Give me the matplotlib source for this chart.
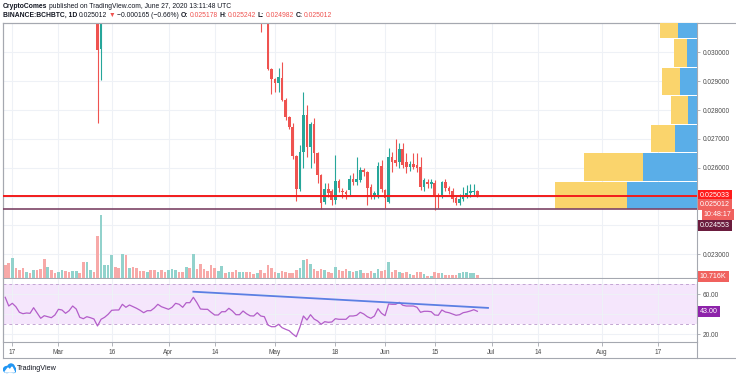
import numpy as np
import pandas as pd
import matplotlib
matplotlib.use("Agg")
import matplotlib.pyplot as plt
import matplotlib.dates as mdates
from matplotlib.patches import Ellipse, Polygon
from matplotlib.lines import Line2D

plt.rcParams['font.family'] = ['Liberation Sans', 'DejaVu Sans']

W, H = 736, 379

# daily bars from Feb 15 2020 to Jun 27 2020 : volume (K) and RSI(14)
day0 = '2020-02-15'
volume = [13.3, 15, 20.3, 10.3, 8.3, 10, 6.3, 5, 8.3, 8.3,
          9.3, 18.7, 11, 8.3, 5, 6.3, 8.3, 7, 6.3, 7,
          7, 5, 15.7, 16.3, 7.7, 6, 42, 63, 13.3, 13.3,
          23.3, 11.3, 10, 24.3, 22.7, 10.3, 11.3, 10.3, 7.3, 7.3,
          6.3, 8.3, 8.3, 6.3, 7.7, 6.3, 8.3, 9.3, 7.7, 6.3,
          6, 11.3, 10, 24.3, 9.3, 14.3, 9.3, 7, 13.3, 10,
          6.7, 12.3, 5.3, 6.3, 6.3, 7.7, 6.3, 6.3,
          6, 6, 4.3, 5.3, 7.7, 5.3, 12.7, 9.7, 5.7, 4.7,
          6.7, 6, 4.7, 5.3, 7.7, 10.3, 17.7, 18.7, 13.7, 8.7,
          7, 9.3, 7.7, 5.7, 5.3, 10.7, 7.7, 7, 8.7, 6.7,
          5.7, 7, 7.7, 4.7, 4.7, 7, 4.7, 8.7, 6.7, 7.7,
          15.7, 6, 7.7, 6, 5.3, 5.7, 3.7, 3.3, 6.3, 6.3,
          4, 2.3, 2, 5.7, 5, 4.7, 2.7, 3.3, 3.3, 2.7,
          5, 6, 6, 4.7, 5.3, 2.7]
volume = [v * 4 for v in volume[:-1]] + [10.716]
vol_side = ("RRGRRRGRGR" "RRGRRGGRRG" "GRRGGRRGGG" "GRRGRGRRRR" "GRRGRRGGGR"
            "RGRGRRRRRR" "GGRGRRGG"
            "RRRGRRRRRG" "RRRRRGGRGR" "RRGRRGRRRG" "RGGRRRGGRR" "GRRGRRGRRR"
            "GRGRRGRRRR" "GGGGGR")
rsi = [57, 48.3, 51, 47.6, 42, 40.6, 41.3, 41, 46.6, 41.3,
       36, 38.6, 37.6, 36.6, 39.3, 45, 44.3, 41, 43.6, 48.3,
       45.3, 37, 35.6, 37.6, 36.6, 35.3, 28.3, 35, 37, 40,
       44, 44.3, 44.3, 50, 47, 49.3, 47.6, 46, 44, 41.6,
       43.6, 43.6, 46.3, 50, 47.6, 46.3, 45, 47, 51, 50,
       47, 51.6, 51.6, 57, 51.6, 45.3, 45, 45, 42, 39.3,
       39.3, 42.6, 42.6, 46, 43.3, 39.6, 39.6, 43.3,
       40.5, 38.5, 38.3, 41.6, 38.3, 37.6, 29.3, 27.6, 27.6, 30,
       26.6, 25, 23.6, 20.3, 17.6, 27, 38.3, 34.3, 39.6, 35.3,
       33.3, 30, 32.6, 32, 32.3, 35.6, 35, 35, 35, 38.3,
       38.3, 39, 42, 40.3, 37.6, 36, 38.3, 45.6, 41, 38.6,
       50.3, 50, 50, 52, 49, 48.3, 48.3, 48.3, 47, 42,
       43, 43, 42.6, 39.3, 39, 44.3, 42.3, 41.6, 40.3, 39,
       39.6, 41.6, 42.3, 43.3, 44.6, 43.0]

# candles that fall inside the visible price range
candle_days = ['2020-03-12', '2020-03-13'] + \
    [d.strftime('%Y-%m-%d') for d in pd.date_range('2020-04-27', '2020-06-27')]
opens = [0.0335, 0.0301,
         0.0322, 0.0318, 0.0315, 0.02941, 0.02906, 0.02893, 0.02910, 0.02835, 0.02775, 0.02740,
         0.02641, 0.02525, 0.02656, 0.02783, 0.02671, 0.02752, 0.02650, 0.02575, 0.02480, 0.02525,
         0.02519, 0.02488, 0.02554, 0.02520, 0.02516, 0.02523, 0.02560, 0.02550, 0.02557, 0.02592,
         0.02585, 0.02534, 0.02502, 0.02505, 0.02606, 0.02522, 0.02482, 0.02638, 0.02628, 0.02621,
         0.02664, 0.02621, 0.02604, 0.02613, 0.02610, 0.02601, 0.02532, 0.02552, 0.02543, 0.02548,
         0.02505, 0.02502, 0.02549, 0.02531, 0.02519, 0.02494, 0.02477, 0.02491, 0.02500, 0.02512,
         0.02516, 0.025178]
highs = [0.0340, 0.0335,
         0.0326, 0.0321, 0.0316, 0.02945, 0.02912, 0.02945, 0.02965, 0.02840, 0.02780, 0.02754,
         0.02645, 0.02679, 0.02864, 0.02817, 0.02760, 0.02771, 0.02655, 0.02580, 0.02546, 0.02546,
         0.02525, 0.02644, 0.02562, 0.02530, 0.02522, 0.02575, 0.02582, 0.02638, 0.02604, 0.02600,
         0.02590, 0.02545, 0.02520, 0.02621, 0.02627, 0.02528, 0.02668, 0.02655, 0.02698, 0.02685,
         0.02685, 0.02652, 0.02625, 0.02650, 0.02650, 0.02638, 0.02565, 0.02560, 0.02562, 0.02557,
         0.02512, 0.02555, 0.02560, 0.02535, 0.02530, 0.02502, 0.02510, 0.02534, 0.02540, 0.02545,
         0.02542, 0.025242]
lows = [0.02754, 0.02904,
        0.03071, 0.0312, 0.02938, 0.02856, 0.02864, 0.02864, 0.02830, 0.02765, 0.02735, 0.02630,
        0.02485, 0.02520, 0.02598, 0.02636, 0.02598, 0.02615, 0.02546, 0.02456, 0.02476, 0.02497,
        0.02471, 0.02474, 0.02515, 0.02495, 0.02490, 0.02505, 0.02540, 0.02540, 0.02550, 0.02570,
        0.02470, 0.02490, 0.02490, 0.02495, 0.02515, 0.02459, 0.02478, 0.02586, 0.02605, 0.02600,
        0.02600, 0.02581, 0.02590, 0.02595, 0.02585, 0.02523, 0.02520, 0.02530, 0.02530, 0.02455,
        0.02460, 0.02495, 0.02520, 0.02510, 0.02480, 0.02470, 0.02470, 0.02485, 0.02495, 0.02500,
        0.02505, 0.024982]
closes = [0.03008, 0.0325,
          0.0318, 0.0315, 0.02941, 0.02906, 0.02893, 0.02913, 0.02835, 0.02775, 0.02740, 0.02641,
          0.02525, 0.02656, 0.02783, 0.02671, 0.02752, 0.02650, 0.02575, 0.02479, 0.02525, 0.02511,
          0.02488, 0.02554, 0.02529, 0.02517, 0.02510, 0.02560, 0.02552, 0.02560, 0.02592, 0.02585,
          0.02529, 0.02505, 0.02512, 0.02606, 0.02525, 0.02494, 0.02638, 0.02621, 0.02618, 0.02664,
          0.02609, 0.02604, 0.02613, 0.02604, 0.02600, 0.02532, 0.02557, 0.02543, 0.02550, 0.02505,
          0.02500, 0.02549, 0.02531, 0.02519, 0.02491, 0.02479, 0.02491, 0.02502, 0.02512, 0.02521,
          0.025177, 0.025012]

# visible range volume profile (bottom row first)
vp_edges = [0.02455, 0.02554, 0.02653, 0.02751, 0.02850, 0.02949, 0.03048, 0.03146]
vp_up = [70, 54.3, 21.7, 9.3, 16.7, 10, 18.7]
vp_down = [72, 59, 24.3, 16.7, 18.3, 12.7, 18]

level_red = 0.025033
level_purple = 0.024553
trend_days = ['2020-04-08', '2020-06-30']
trend_rsi = [62.6, 46.4]

tick_days = ['2020-02-17', '2020-03-01', '2020-03-16', '2020-04-01', '2020-04-14', '2020-05-01',
             '2020-05-18', '2020-06-01', '2020-06-15', '2020-07-01', '2020-07-14', '2020-08-01',
             '2020-08-17']
tick_names = ['17', 'Mar', '16', 'Apr', '14', 'May', '18', 'Jun', '15', 'Jul', '14', 'Aug', '17']
price_ticks = [0.023, 0.024, 0.025, 0.026, 0.027, 0.028, 0.029, 0.030]

UP, DN = '#26a69a', '#ef5350'
VUP, VDN = '#92d2cc', '#f7a9a8'
GRID = '#eef1f6'
FRAME = '#a5a8b0'
TXT = '#4a4a4a'
FS = 4.7

fig = plt.figure(figsize=(W / 100, H / 100), dpi=100)
fig.patch.set_facecolor('white')


def box(l, t, r, b):
    return [l / W, 1 - b / H, (r - l) / W, (b - t) / H]


ax = fig.add_axes(box(3, 23, 697, 278))
ax_rsi = fig.add_axes(box(3, 279, 697, 342), sharex=ax)

base = mdates.date2num(pd.Timestamp('2020-02-17'))
ax.set_xlim(base - 2.62, base + 192.87)
ax.set_ylim(0.022179, 0.031015)

# volume overlay and volume profile live on twins of the price pane
axv = ax.twinx()
axv.set_zorder(ax.get_zorder() + 1)
axv.patch.set_visible(False)
axp = ax.twiny()
axp.set_zorder(axv.get_zorder() + 1)
axp.patch.set_visible(False)

ticks_x = mdates.date2num(pd.to_datetime(tick_days))
for a in (ax, ax_rsi):
    a.set_xticks(ticks_x)
    a.grid(True, color=GRID, lw=0.8)
    a.set_axisbelow(True)
    for s in a.spines.values():
        s.set_color(FRAME)
        s.set_linewidth(0.8)
    a.yaxis.tick_right()
    a.tick_params(axis='y', length=2, width=0.6, color=FRAME, labelsize=FS, labelcolor=TXT, pad=2)
ax.tick_params(axis='x', length=0, labelbottom=False, labeltop=False)
ax_rsi.set_xticklabels(tick_names)
ax_rsi.tick_params(axis='x', length=3, width=0.6, color=FRAME, labelsize=FS, labelcolor=TXT, pad=2)

ax.set_yticks(price_ticks)
ax.set_yticklabels(['' if p in (0.024, 0.025) else '%.6f' % p for p in price_ticks])

# candles
cx = mdates.date2num(pd.to_datetime(candle_days))
o, h, l, c = map(np.array, (opens, highs, lows, closes))
ccol = np.where(c >= o, UP, DN)
ax.vlines(cx, l, h, colors=ccol, lw=0.8, zorder=2)
ax.bar(cx, np.maximum(np.abs(c - o), 0.00002), bottom=np.minimum(o, c), width=0.74,
       color=ccol, linewidth=0, zorder=3)

# volume
vx = mdates.date2num(pd.date_range(day0, periods=len(volume)))
axv.bar(vx, volume, width=0.75, color=[VUP if s == 'G' else VDN for s in vol_side], linewidth=0)
axv.set_ylim(0, 1020)
axv.set_yticks([])
for s in axv.spines.values():
    s.set_visible(False)

# volume profile + horizontal levels
axp.set_xlim(694, 0)
centers = [(a + b) / 2 for a, b in zip(vp_edges[:-1], vp_edges[1:])]
hts = [(b - a) * 0.965 for a, b in zip(vp_edges[:-1], vp_edges[1:])]
axp.barh(centers, vp_up, height=hts, left=0, color='#5aaee8', linewidth=0)
axp.barh(centers, vp_down, height=hts, left=vp_up, color='#fad46c', linewidth=0)
axp.axhline(level_red, color='#f21b1b', lw=1.4)
axp.axhline(level_purple, color='#7d4466', lw=1.2)
axp.set_xticks([])
for s in axp.spines.values():
    s.set_visible(False)
axp.set_ylim(ax.get_ylim())

# rsi pane
ax_rsi.set_ylim(12.3, 75.3)
ax_rsi.axhspan(30, 70, color='#f5e6fc', zorder=0.5, lw=0)
for lv in (30, 70):
    ax_rsi.axhline(lv, color='#c3a6d3', lw=0.7, ls=(0, (3, 3)), zorder=1)
ax_rsi.plot(vx, rsi, color='#b35ec9', lw=0.9, zorder=3)
ax_rsi.plot(mdates.date2num(pd.to_datetime(trend_days)), trend_rsi, color='#5b7fe3', lw=1.3, zorder=4)
ax_rsi.set_yticks([20, 40, 60])
ax_rsi.set_yticklabels(['20.00', '', '60.00'])
ax_rsi.spines['top'].set_visible(False)


def tag(a, txt, val, bg, dy=0, dx=3):
    a.annotate(txt, xy=(1, val), xycoords=('axes fraction', 'data'), xytext=(dx, dy),
               textcoords='offset pixels', va='center', ha='left', color='white', fontsize=5.1,
               bbox=dict(boxstyle='square,pad=0.3', fc=bg, ec='none'), zorder=10,
               annotation_clip=False)


tag(axp, '0.025033', level_red, '#ff1b1b')
tag(axp, '0.025012', closes[-1], '#f0615e', dy=-8)
tag(axp, '10:48:17', closes[-1], '#f0615e', dy=-18, dx=7)
tag(axp, '0.024553', level_purple, '#6b1c3e', dy=-16)
tag(axv, '10.716K', volume[-1], '#f0615e', dy=-1)
tag(ax_rsi, '43.00', rsi[-1], '#8e24aa')

# outer frame lines
fig.add_artist(Line2D([3 / W, 736 / W], [1 - 23 / H] * 2, color=FRAME, lw=0.8))
fig.add_artist(Line2D([3 / W, 736 / W], [1 - 358 / H] * 2, color=FRAME, lw=0.8))
fig.add_artist(Line2D([3 / W, 3 / W], [1 - 23 / H, 1 - 358 / H], color=FRAME, lw=0.8))
fig.add_artist(Line2D([697 / W, 697 / W], [1 - 342 / H, 1 - 358 / H], color=FRAME, lw=0.8))

# header
renderer = fig.canvas.get_renderer()


def line_of(pieces, x0, y0, size):
    x = x0
    for txt, color, weight in pieces:
        t = fig.text(x / W, 1 - y0 / H, txt, color=color, fontsize=size, fontweight=weight,
                     va='center', ha='left')
        x += t.get_window_extent(renderer=renderer).width + 1.6


DARK = '#131722'
line_of([('CryptoComes', DARK, 'bold'),
         ('published on TradingView.com, June 27, 2020 13:11:48 UTC', DARK, 'normal')], 3, 6, 4.9)
line_of([('BINANCE:BCHBTC, 1D', DARK, 'bold'), ('0.025012', DARK, 'normal'), ('▼', DN, 'normal'),
         ('−0.000165 (−0.66%)', DARK, 'normal'), ('O:', DARK, 'bold'), ('0.025178', DN, 'normal'),
         ('H:', DARK, 'bold'), ('0.025242', DN, 'normal'), ('L:', DARK, 'bold'),
         ('0.024982', DN, 'normal'), ('C:', DARK, 'bold'), ('0.025012', DN, 'normal')], 3, 15.5, 4.9)

# footer logo
logo = fig.add_axes(box(3, 362, 16, 374))
logo.set_xlim(0, 13)
logo.set_ylim(0, 12)
logo.axis('off')
logo.add_patch(Ellipse((4, 4.5), 7, 6, color='#2196f3'))
logo.add_patch(Ellipse((8, 6), 7, 8, color='#2196f3'))
logo.add_patch(Ellipse((10.5, 4), 5, 5, color='#2196f3'))
logo.add_patch(Polygon([[2, 2], [5, 6], [7, 4], [9, 7], [11.5, 2]], closed=True, color='white'))
fig.text(17 / W, 1 - 368 / H, 'TradingView', fontsize=5.2, color=DARK, va='center', ha='left')

fig.savefig('out.png', dpi=100)
